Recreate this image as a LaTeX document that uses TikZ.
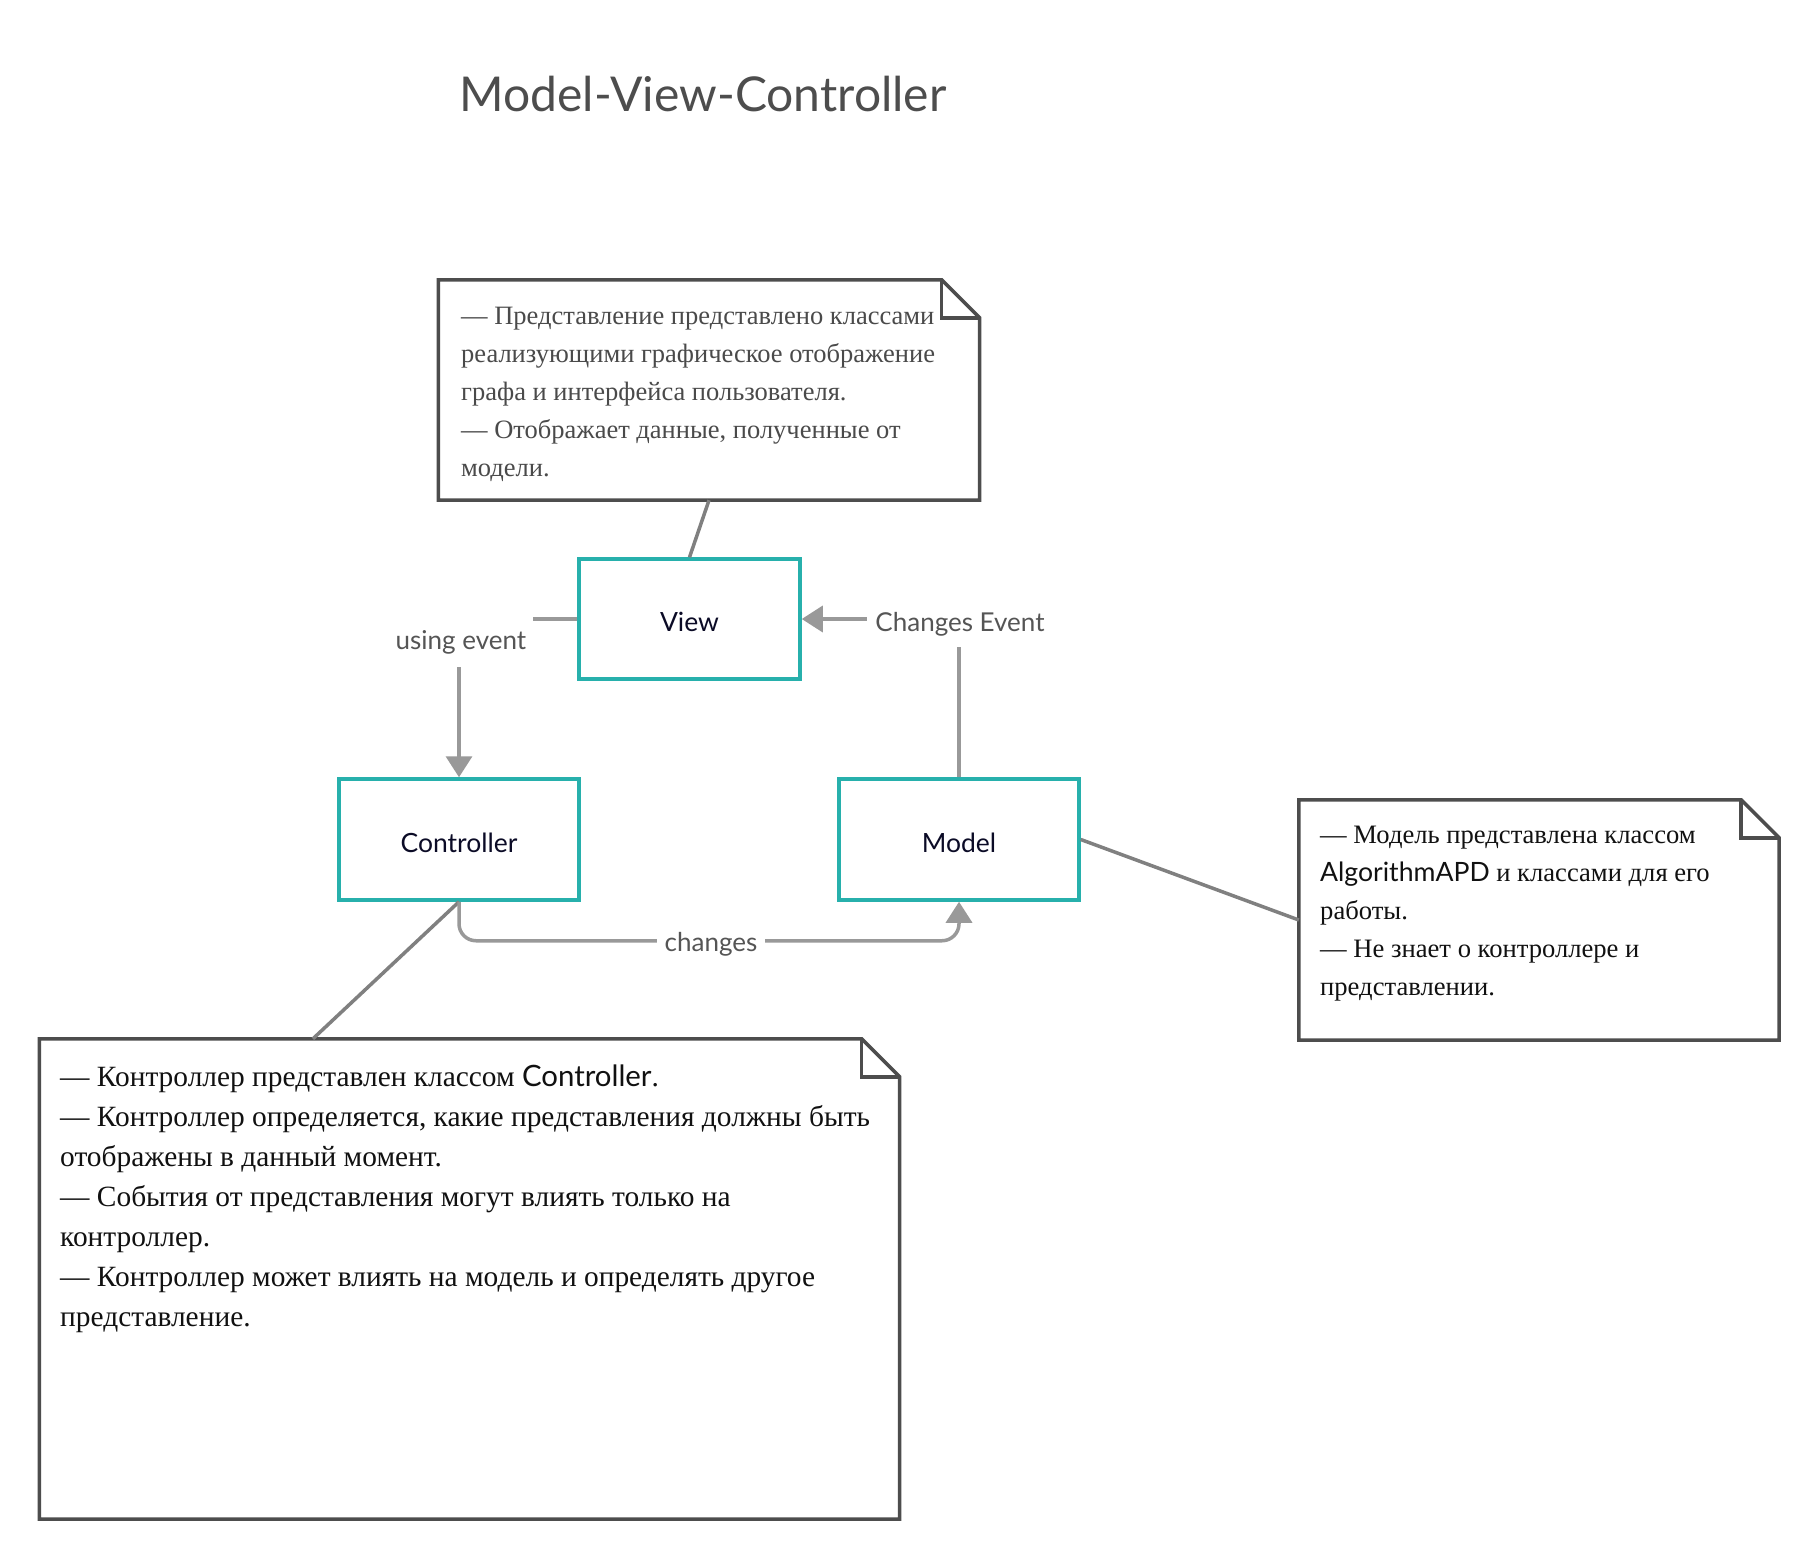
\documentclass[tikz,border=0pt]{standalone}
\usepackage{fontspec}
\setmainfont{Liberation Serif}
\newfontfamily\lato{Lato}
\usetikzlibrary{arrows.meta,calc}
\definecolor{tealbox}{HTML}{27B0AC}
\definecolor{arrgray}{HTML}{999999}
\definecolor{linkgray}{HTML}{808080}
\definecolor{noteedge}{HTML}{4D4D4D}
\definecolor{labgray}{HTML}{555555}
\definecolor{boxtext}{HTML}{0B0B26}
\definecolor{titlegray}{HTML}{4D4D4D}
\definecolor{vtext}{HTML}{4A4A4A}
\definecolor{ntext}{HTML}{111111}
\newcommand\dognote[1]{%
  \draw[noteline] (#1.north west) -- ([xshift=-38pt]#1.north east) -- ([yshift=-38pt]#1.north east) -- (#1.south east) -- (#1.south west) -- cycle;
  \draw[noteline] ([xshift=-38pt]#1.north east) -- ([xshift=-38pt,yshift=-38pt]#1.north east) -- ([yshift=-38pt]#1.north east);
}
\begin{document}
\begin{tikzpicture}[x=1pt,y=-1pt,
  mvcbox/.style={draw=tealbox,line width=3.5pt,inner sep=0pt,text=boxtext,text height=25pt,text depth=0pt,font=\lato\fontsize{26.5}{30}\selectfont},
  conn/.style={draw=arrgray,line width=3.5pt,-{Triangle[length=21pt,width=26pt]}},
  lab/.style={fill=white,text=labgray,inner sep=0pt,font=\lato\fontsize{26}{30}\selectfont},
  frame/.style={inner sep=0pt,draw=none},
  noteline/.style={draw=noteedge,line width=3.5pt,line join=miter},
  link/.style={draw=linkgray,line width=3.5pt},
  notetxt/.style={align=left,inner sep=0pt,anchor=north west}
]
\useasboundingbox (0,0) rectangle (1820,1560);
\fill[white] (0,0) rectangle (1820,1560);

\node[anchor=base,text=titlegray,font=\lato\fontsize{48}{58}\selectfont] (title) at (703,112) {Model-View-Controller};

% boxes
\node[mvcbox,minimum width=221pt,minimum height=120pt] (view) at (689.5,619) {View};
\node[mvcbox,minimum width=240pt,minimum height=121pt] (ctrl) at (459,839.5) {Controller};
\node[mvcbox,minimum width=240pt,minimum height=121pt] (model) at (959,839.5) {Model};

% notes
\node[frame,minimum width=541pt,minimum height=220pt] (vnote) at (709,390) {};
\node[frame,minimum width=480pt,minimum height=240pt] (mnote) at (1539,920) {};
\node[frame,minimum width=860pt,minimum height=480pt] (cnote) at (469.5,1279) {};
\dognote{vnote}
\dognote{mnote}
\dognote{cnote}

\node[notetxt,text=vtext,font=\fontsize{26.5}{38}\selectfont] (vtxt) at (461,307) {— Представление представлено классами\\реализующими графическое отображение\\графа и интерфейса пользователя.\\— Отображает данные, полученные от\\модели.};
\node[notetxt,text=ntext,font=\fontsize{26.6}{38}\selectfont] (mtxt) at (1320,826) {— Модель представлена классом\\{\lato AlgorithmAPD} и классами для его\\работы.\\— Не знает о контроллере и\\представлении.};
\node[notetxt,text=ntext,font=\fontsize{29.4}{40}\selectfont] (ctxt) at (60,1065) {— Контроллер представлен классом {\lato Controller}.\\— Контроллер определяется, какие представления должны быть\\отображены в данный момент.\\— События от представления могут влиять только на\\контроллер.\\— Контроллер может влиять на модель и определять другое\\представление.};

% links
\draw[link] (vnote.south) -- (view.north);
\draw[link] (model.east) -- (mnote.west);
\coordinate (cattach) at ($(cnote.north west)!0.318!(cnote.north east)$);
\draw[link] (ctrl.south) -- (cattach);

% connectors
\draw[conn] (view.west) -| (ctrl.north);
\node[lab,minimum width=144pt,minimum height=50pt] (lusing) at (461,642) {using event};
\draw[conn] (model.north) |- (view.east);
\node[lab,minimum width=186pt,minimum height=46pt] (lchg) at (960,624) {Changes Event};
\draw[conn,rounded corners=17pt] (ctrl.south) -- ([yshift=-39pt]ctrl.south) -| (model.south);
\node[lab,minimum width=108pt,minimum height=40pt] (lchanges) at (711,944) {changes};
\end{tikzpicture}
\end{document}
